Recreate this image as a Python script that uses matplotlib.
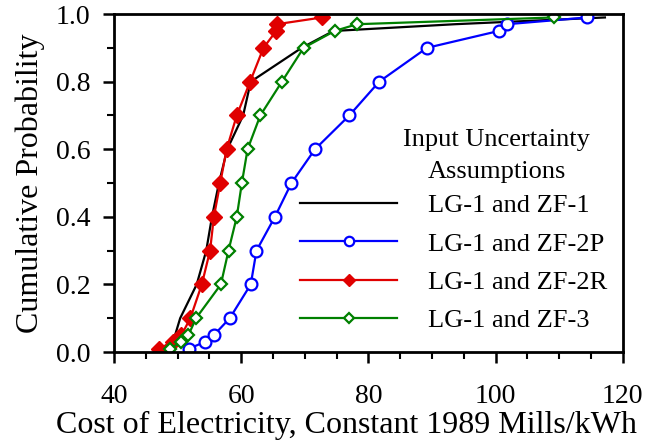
import numpy as np
import matplotlib
matplotlib.use("Agg")
import matplotlib.pyplot as plt
from matplotlib.ticker import MultipleLocator

plt.rcParams['font.family'] = ['Liberation Serif', 'DejaVu Serif']

# cumulative probability levels
prob = [0.01, 0.03, 0.05, 0.1, 0.2, 0.3, 0.4, 0.5, 0.6, 0.7, 0.8, 0.9, 0.95, 0.97, 0.99]

# cost of electricity (mills/kWh) for each case
zf1 = [47.5, 49.0, 49.6, 50.4, 53.0, 54.5, 55.4, 56.5, 57.8, 60.3, 61.5, 69.5, 74.5, 93.6, 117.2]
zf2p = [51.8, 54.3, 55.7, 58.2, 61.5, 62.4, 65.3, 67.9, 71.6, 77.0, 81.7, 89.2, 100.5, 101.8, 114.4]
zf2r = [47.1, 49.2, 50.6, 52.0, 53.8, 55.1, 55.7, 56.7, 57.7, 59.3, 61.4, 63.5, 65.5, 65.6, 72.7]
zf3 = [48.8, 50.6, 51.7, 52.9, 56.8, 58.0, 59.3, 60.1, 61.0, 63.0, 66.4, 69.8, 74.7, 78.2, 109.2]

labels = ["LG-1 and ZF-1", "LG-1 and ZF-2P", "LG-1 and ZF-2R", "LG-1 and ZF-3"]

fig = plt.figure(figsize=(6.48, 4.4), dpi=100)
ax = fig.add_axes([0.176, 0.2, 0.785, 0.768])

ax.plot(zf1, prob, color="black", lw=1.6, label=labels[0])
ax.plot(zf2p, prob, color="#0000ff", lw=1.6, marker="o", ms=8.5,
        mfc="white", mec="#0000ff", mew=1.6, label=labels[1])
ax.plot(zf2r, prob, color="#e00000", lw=1.6, marker="D", ms=8,
        mfc="#e00000", mec="#e00000", label=labels[2])
ax.plot(zf3, prob, color="#008000", lw=1.6, marker="D", ms=6.5,
        mfc="white", mec="#008000", mew=1.6, label=labels[3])

ax.set_xlim(40, 120)
ax.set_ylim(0, 1.0)
ax.xaxis.set_major_locator(MultipleLocator(20))
ax.xaxis.set_minor_locator(MultipleLocator(5))
ax.yaxis.set_major_locator(MultipleLocator(0.2))
ax.yaxis.set_minor_locator(MultipleLocator(0.1))
ax.yaxis.set_major_formatter(plt.FormatStrFormatter("%.1f"))
ax.tick_params(which="major", direction="out", length=8, width=1.8, labelsize=20)
ax.tick_params(which="minor", direction="out", length=5, width=1.5)
ax.tick_params(axis="x", which="major", pad=15)
ax.tick_params(axis="y", which="major", pad=9)
for s in ax.spines.values():
    s.set_linewidth(2)

# x label sits a bit left of the axes centre in the original
fig.text(346 / 648, 1 - 433 / 440, "Cost of Electricity, Constant 1989 Mills/kWh",
         fontsize=23, ha="center", va="baseline")
ax.set_ylabel("Cumulative Probability", fontsize=23, labelpad=8)

ax.text(0.752, 0.58, "Input Uncertainty\nAssumptions", transform=ax.transAxes,
        ha="center", va="center", fontsize=19, multialignment="center", linespacing=1.55)

ax.legend(loc="upper left", bbox_to_anchor=(0.365, 0.468), frameon=False,
          fontsize=19, handlelength=3.7, handletextpad=1.15, labelspacing=0.56,
          borderpad=0, borderaxespad=0, markerscale=0.8)

fig.savefig("out.png", dpi=100)
